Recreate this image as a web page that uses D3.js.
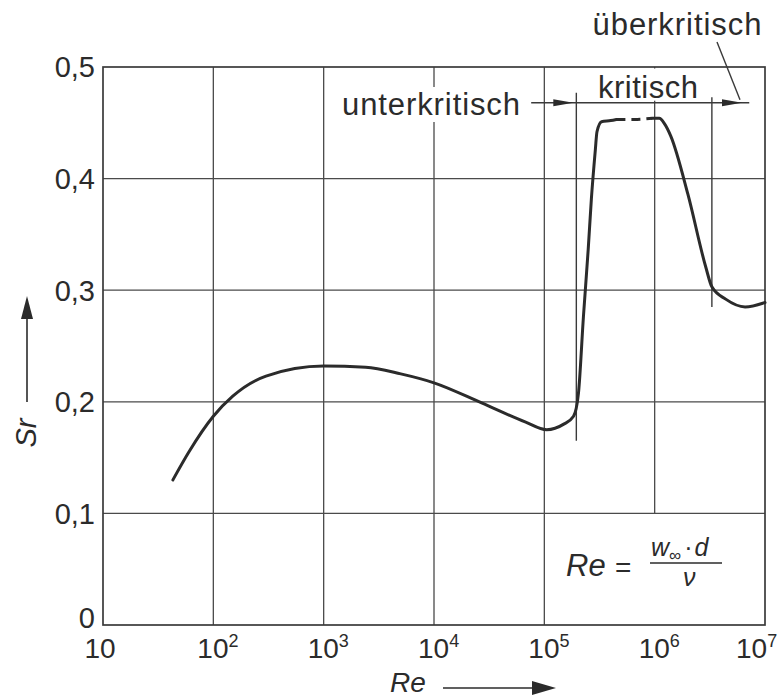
<!DOCTYPE html>
<html>
<head>
<meta charset="utf-8">
<script src="https://cdn.jsdelivr.net/npm/d3@7"></script>
<style>
  body { margin: 0; background: #fff; }
  svg { display: block; font-family: "Liberation Sans", Arial, Helvetica, sans-serif; }
</style>
</head>
<body>
<svg id="chart"></svg>
<script>
// Strouhal number vs Reynolds number (circular cylinder)
const reTicks = [10, 1e2, 1e3, 1e4, 1e5, 1e6, 1e7];
const reExps = ["", "2", "3", "4", "5", "6", "7"];
const srTicks = [0, 0.1, 0.2, 0.3, 0.4, 0.5];
const srLabels = ["0", "0,1", "0,2", "0,3", "0,4", "0,5"];

// subcritical part + start of the rise (solid)
const reSub = [43, 60, 100, 150, 300, 1000, 2400, 5000, 1e4, 2.7e4, 6.7e4, 1.05e5, 1.5e5, 1.84e5, 2.04e5, 2.26e5, 2.5e5, 2.67e5, 2.9e5, 3.0e5, 3.3e5, 4.0e5, 4.5e5];
const srSub = [0.13, 0.155, 0.187, 0.205, 0.223, 0.232, 0.231, 0.225, 0.217, 0.199, 0.182, 0.175, 0.180, 0.187, 0.208, 0.276, 0.337, 0.382, 0.426, 0.442, 0.451, 0.452, 0.453];
// plateau (dashed)
const reDash = [4.5e5, 6.5e5, 9.5e5];
const srDash = [0.453, 0.453, 0.454];
// drop and supercritical part (solid)
const reSup = [9.5e5, 1.1e6, 1.23e6, 1.4e6, 2.0e6, 2.9e6, 3.3e6, 4.4e6, 6.6e6, 1e7];
const srSup = [0.454, 0.454, 0.449, 0.438, 0.386, 0.321, 0.303, 0.292, 0.285, 0.289];

// regime boundaries
const reBounds = [1.95e5, 3.3e6];
const boundTop = [0.477, 0.473];
const boundBottom = [0.165, 0.285];
const regimeSr = 0.468;
const regimeRange = [7.6e4, 7.2e6];

const width = 784, height = 700;
const pLeft = 103, pRight = 765, pTop = 67, pBottom = 625;
const ink = "#2b2b2b";

const svg = d3.select("#chart").attr("width", width).attr("height", height);

const x = d3.scaleLog().domain([10, 1e7]).range([pLeft, pRight]);
const y = d3.scaleLinear().domain([0, 0.5]).range([pBottom, pTop]);

// grid
const grid = svg.append("g").attr("stroke", "#4a4a4a").attr("stroke-width", 1.3);
grid.selectAll("line.v").data(reTicks.slice(1, -1)).enter().append("line")
  .attr("x1", d => x(d)).attr("x2", d => x(d))
  .attr("y1", y(0.5))
  .attr("y2", d => d === 1e6 ? y(0.1) : y(0));
grid.selectAll("line.h").data(srTicks.slice(1, -1)).enter().append("line")
  .attr("x1", x(10)).attr("x2", x(1e7))
  .attr("y1", d => y(d)).attr("y2", d => y(d));

// label layer with white knockouts
const ann = svg.append("g");
function label(g, txt, px, py, size, anchor, knock) {
  const t = g.append("text").attr("x", px).attr("y", py)
    .attr("font-size", size).attr("text-anchor", anchor).attr("fill", ink).text(txt);
  if (knock) {
    const b = t.node().getBBox();
    const y0 = knock[1] !== null ? knock[1] : b.y;
    const y1 = knock[2] !== null ? knock[2] : b.y + b.height;
    g.insert("rect", () => t.node())
      .attr("x", b.x - knock[0]).attr("y", y0)
      .attr("width", b.width + 2 * knock[0]).attr("height", y1 - y0)
      .attr("fill", "#fff");
  }
  return t;
}
label(ann, "unterkritisch", 520, 115, 31, "end", [4, null, null]).attr("textLength", 178);
label(ann, "kritisch", 648, 98, 31, "middle", [4, pTop + 1.5, y(regimeSr) - 2]).attr("textLength", 100);
label(ann, "überkritisch", 677, 35, 31, "middle", null).attr("textLength", 169);

// frame
svg.append("rect").attr("x", pLeft).attr("y", pTop)
  .attr("width", pRight - pLeft).attr("height", pBottom - pTop)
  .attr("fill", "none").attr("stroke", "#3a3a3a").attr("stroke-width", 1.7);

// regime boundaries and arrow line
const reg = svg.append("g").attr("stroke", "#3a3a3a").attr("stroke-width", 1.4);
reg.selectAll("line.b").data(reBounds).enter().append("line")
  .attr("x1", d => x(d)).attr("x2", d => x(d))
  .attr("y1", (d, i) => y(boundTop[i])).attr("y2", (d, i) => y(boundBottom[i]));
reg.append("line")
  .attr("x1", x(regimeRange[0])).attr("x2", x(regimeRange[1]))
  .attr("y1", y(regimeSr)).attr("y2", y(regimeSr));
// leader line to "überkritisch"
reg.append("line").attr("x1", 717).attr("y1", 42).attr("x2", 740).attr("y2", y(regimeSr) - 3);

const ay = y(regimeSr);
const heads = [x(reBounds[0]) - 3, 742];
svg.selectAll("path.head").data(heads).enter().append("path")
  .attr("d", d => `M${d},${ay} L${d - 20},${ay - 3.5} L${d - 20},${ay + 3.5} Z`)
  .attr("fill", ink);

// curve
const gen = d3.line().x(d => x(d[0])).y(d => y(d[1])).curve(d3.curveMonotoneX);
const zipped = (a, b) => a.map((v, i) => [v, b[i]]);
const cg = svg.append("g").attr("fill", "none").attr("stroke", ink)
  .attr("stroke-width", 3).attr("stroke-linejoin", "round").attr("stroke-linecap", "round");
cg.append("path").attr("d", gen(zipped(reSub, srSub)));
cg.append("path").attr("d", gen(zipped(reDash, srDash)))
  .attr("stroke-dasharray", "9,6").attr("stroke-linecap", "butt");
cg.append("path").attr("d", gen(zipped(reSup, srSup)));

// y tick labels
svg.selectAll("text.ylab").data(srTicks).enter().append("text")
  .attr("x", 95).attr("y", d => d === 0 ? y(d) - 7 : y(d)).attr("dy", "0.36em")
  .attr("text-anchor", "end").attr("font-size", 29).attr("fill", ink)
  .text((d, i) => srLabels[i]);

// x tick labels: "10" with superscript exponent
const xl = svg.selectAll("text.xlab").data(reTicks).enter().append("text")
  .attr("y", 658).attr("font-size", 28).attr("fill", ink)
  .attr("text-anchor", (d, i) => i === 0 ? "middle" : "start")
  .attr("x", (d, i) => i === 0 ? x(d) - 3 : x(d) - 16 - (i === reTicks.length - 1 ? 13 : 0));
xl.append("tspan").text("10");
xl.append("tspan").attr("dy", -11).attr("font-size", 18).text((d, i) => reExps[i]);

// axis titles with arrows
svg.append("text").attr("transform", "translate(36,433) rotate(-90)")
  .attr("text-anchor", "middle").attr("font-size", 29).attr("font-style", "italic")
  .attr("fill", ink).text("Sr");
svg.append("line").attr("x1", 27).attr("x2", 27).attr("y1", 402).attr("y2", 312)
  .attr("stroke", ink).attr("stroke-width", 1.6);
svg.append("path").attr("d", "M27,296 L21,319 L33,319 Z").attr("fill", ink);

svg.append("text").attr("x", 390).attr("y", 692).attr("font-size", 28)
  .attr("font-style", "italic").attr("fill", ink).text("Re");
svg.append("line").attr("x1", 443).attr("x2", 540).attr("y1", 688).attr("y2", 688)
  .attr("stroke", ink).attr("stroke-width", 1.6);
svg.append("path").attr("d", "M556,688 L532,681 L532,695 Z").attr("fill", ink);

// formula Re = w∞·d / ν
const f = svg.append("g").attr("fill", ink).attr("font-style", "italic");
f.append("text").attr("x", 566).attr("y", 576).attr("font-size", 31).text("Re");
f.append("text").attr("x", 615).attr("y", 577).attr("font-size", 28).attr("font-style", "normal").text("=");
f.append("line").attr("x1", 650).attr("x2", 722).attr("y1", 563).attr("y2", 563)
  .attr("stroke", ink).attr("stroke-width", 1.5);
const num = f.append("text").attr("x", 651).attr("y", 556).attr("font-size", 25);
num.append("tspan").text("w");
num.append("tspan").attr("dy", 5).attr("font-size", 17).attr("font-style", "normal").text("∞");
num.append("tspan").attr("dy", -5).attr("dx", 3).attr("font-style", "normal").text("·");
num.append("tspan").attr("dx", 2).text("d");
f.append("text").attr("x", 683).attr("y", 586).attr("font-size", 25).text("ν");
</script>
</body>
</html>
